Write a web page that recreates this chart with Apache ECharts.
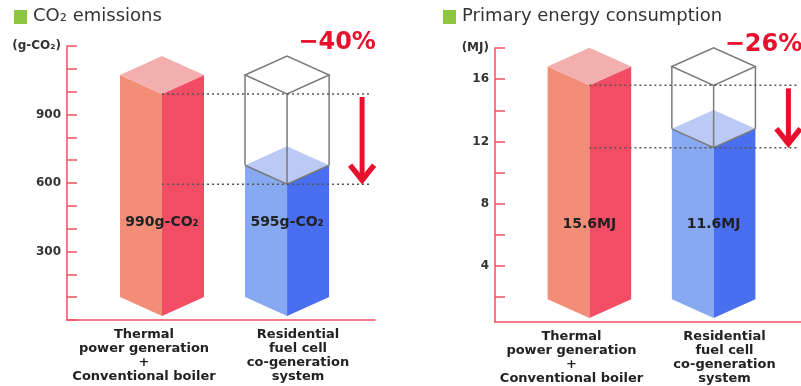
<!DOCTYPE html>
<html>
<head>
<meta charset="utf-8">
<script src="https://cdn.jsdelivr.net/npm/echarts@6/dist/echarts.min.js"></script>
<style>
  html, body { margin: 0; padding: 0; background: #fff; }
  #chart { width: 801px; height: 386px; }
</style>
</head>
<body>
<div id="chart"></div>
<script>
// Categories shared by both panels
const categories = [
  'Thermal\npower generation\n+\nConventional boiler',
  'Residential\nfuel cell\nco-generation\nsystem'
];

// CO2 emissions (g-CO2)
const co2Values = [990, 595];
const co2Min = 0;
const co2Max = 1200;
const co2Step = 100;
const co2LabelTicks = [300, 600, 900];
const co2Unit = '(g-CO₂)';

// Primary energy consumption (MJ)
const energyValues = [15.6, 11.6];
const energyMin = 0.4;
const energyMax = 18;
const energyTickValues = [2, 4, 6, 8, 10, 12, 14, 16, 18];
const energyLabelTicks = [4, 8, 12, 16];
const energyUnit = '(MJ)';

const FONT = '"DejaVu Sans", sans-serif';
const AXIS_RED = '#f2505f';
const ARROW_RED = '#e8112d';
const faces = [
  { left: '#f28e77', right: '#f34c65', top: '#f3aeae' },
  { left: '#86a9f1', right: '#4a6ef0', top: '#bbc9f5' }
];

// Draws an isometric prism per category; the second one also carries the
// outline of the first one's height, guide lines, the arrow and the percentage.
function makeRender(values, labelOf) {
  return function (params, api) {
    const idx = api.value(0);
    const v = api.value(1);
    const cs = params.coordSys;
    const band = api.size([1, 0])[0];
    const w = band * 0.273;
    const d = band * 0.123;
    const frontX = i => api.coord([i, values[i]])[0] + band * (i === 0 ? 0.117 : -0.071);
    const axisY = cs.y + cs.height;
    const baseY = axisY - 4;
    const cx = frontX(idx);
    const yTop = api.coord([idx, v])[1];
    const c = faces[idx];
    const kids = [
      { type: 'polygon', shape: { points: [[cx - w, yTop - d], [cx, yTop], [cx, baseY], [cx - w, baseY - d]] }, style: { fill: c.left } },
      { type: 'polygon', shape: { points: [[cx, yTop], [cx + w, yTop - d], [cx + w, baseY - d], [cx, baseY]] }, style: { fill: c.right } },
      { type: 'polygon', shape: { points: [[cx - w, yTop - d], [cx, yTop - 2 * d], [cx + w, yTop - d], [cx, yTop]] }, style: { fill: c.top } }
    ];
    if (idx === 1) {
      const refV = values[0];
      const yRef = api.coord([0, refV])[1];
      const wire = { stroke: '#7a7a7a', lineWidth: 1.5, fill: null };
      kids.push(
        { type: 'polygon', shape: { points: [[cx - w, yRef - d], [cx, yRef - 2 * d], [cx + w, yRef - d], [cx, yRef]] }, style: wire },
        { type: 'line', shape: { x1: cx - w, y1: yRef - d, x2: cx - w, y2: yTop - d }, style: wire },
        { type: 'line', shape: { x1: cx, y1: yRef, x2: cx, y2: yTop }, style: wire },
        { type: 'line', shape: { x1: cx + w, y1: yRef - d, x2: cx + w, y2: yTop - d }, style: wire },
        { type: 'polyline', shape: { points: [[cx - w, yTop - d], [cx, yTop], [cx + w, yTop - d]] }, style: wire }
      );
      // dotted guide lines from the first prism's front edge
      const x0 = frontX(0);
      const xEnd = cs.x + cs.width - 3;
      const dots = { stroke: '#555', lineWidth: 1.5, lineDash: [2, 3] };
      kids.push(
        { type: 'line', shape: { x1: x0, y1: yRef, x2: xEnd, y2: yRef }, style: dots },
        { type: 'line', shape: { x1: x0, y1: yTop, x2: xEnd, y2: yTop }, style: dots }
      );
      // downward arrow
      const ax = cx + w + 33;
      const a1 = yRef + 3;
      const a2 = yTop - 4;
      kids.push(
        { type: 'line', shape: { x1: ax, y1: a1, x2: ax, y2: a2 - 2 }, style: { stroke: ARROW_RED, lineWidth: 5 } },
        { type: 'polyline', shape: { points: [[ax - 12, a2 - 15], [ax, a2], [ax + 12, a2 - 15]] }, style: { stroke: ARROW_RED, lineWidth: 5.5, fill: null, lineJoin: 'miter' } }
      );
      const pct = Math.round((refV - v) / refV * 100);
      kids.push({
        type: 'text', x: ax - 25, y: cs.y - 3,
        style: { text: '−' + pct + '%', fill: ARROW_RED, font: 'bold 24px ' + FONT, align: 'center', verticalAlign: 'middle' }
      });
    }
    kids.push({
      type: 'text', x: cx, y: axisY - 98,
      style: { text: labelOf(v), fill: '#222', font: 'bold 14px ' + FONT, align: 'center', verticalAlign: 'middle' }
    });
    return { type: 'group', children: kids };
  };
}

const xAxisBase = {
  type: 'category',
  data: categories,
  axisLine: { lineStyle: { color: AXIS_RED, width: 1.5 } },
  axisTick: { show: false },
  axisLabel: { color: '#222', fontFamily: FONT, fontWeight: 'bold', fontSize: 13, lineHeight: 14, margin: 8, interval: 0 }
};

const yAxisBase = {
  type: 'value',
  axisLine: { show: true, lineStyle: { color: AXIS_RED, width: 1.5 } },
  axisTick: { show: true, inside: true, length: 10, lineStyle: { color: AXIS_RED, width: 1.5 } },
  splitLine: { show: false },
  axisLabel: {
    color: '#333', fontFamily: FONT, fontWeight: 'bold', fontSize: 12, margin: 6,
    rich: { u: { fontFamily: FONT, fontWeight: 'bold', fontSize: 12, color: '#333' } }
  }
};

const chart = echarts.init(document.getElementById('chart'), null, { renderer: 'canvas' });
chart.setOption({
  animation: false,
  backgroundColor: '#fff',
  grid: [
    { left: 67, right: 426, top: 46, bottom: 66 },
    { left: 495, right: 0, top: 48, bottom: 63 }
  ],
  graphic: [
    { type: 'rect', left: 14, top: 10, shape: { width: 13, height: 14 }, style: { fill: '#8dc63f' } },
    { type: 'text', left: 33, top: 7, style: { text: 'CO₂ emissions', fill: '#333', font: '18px ' + FONT } },
    { type: 'rect', left: 443, top: 10, shape: { width: 13, height: 14 }, style: { fill: '#8dc63f' } },
    { type: 'text', left: 462, top: 7, style: { text: 'Primary energy consumption', fill: '#333', font: '18px ' + FONT } }
  ],
  xAxis: [
    Object.assign({ gridIndex: 0 }, xAxisBase),
    Object.assign({ gridIndex: 1 }, xAxisBase)
  ],
  yAxis: [
    Object.assign({}, yAxisBase, {
      gridIndex: 0, min: co2Min, max: co2Max, interval: co2Step,
      axisLabel: Object.assign({}, yAxisBase.axisLabel, {
        formatter: v => v === co2Max ? '{u|' + co2Unit + '}' : (co2LabelTicks.includes(v) ? String(v) : '')
      })
    }),
    Object.assign({}, yAxisBase, {
      gridIndex: 1, min: energyMin, max: energyMax,
      axisTick: Object.assign({}, yAxisBase.axisTick, { customValues: energyTickValues }),
      axisLabel: Object.assign({}, yAxisBase.axisLabel, {
        customValues: energyLabelTicks.concat([energyMax]),
        formatter: v => v === energyMax ? '{u|' + energyUnit + '}' : String(v)
      })
    })
  ],
  series: [
    {
      type: 'custom', xAxisIndex: 0, yAxisIndex: 0, silent: true,
      data: co2Values.map((v, i) => [i, v]),
      renderItem: makeRender(co2Values, v => v + 'g-CO₂')
    },
    {
      type: 'custom', xAxisIndex: 1, yAxisIndex: 1, silent: true,
      data: energyValues.map((v, i) => [i, v]),
      renderItem: makeRender(energyValues, v => v.toFixed(1) + 'MJ')
    }
  ]
});
</script>
</body>
</html>
